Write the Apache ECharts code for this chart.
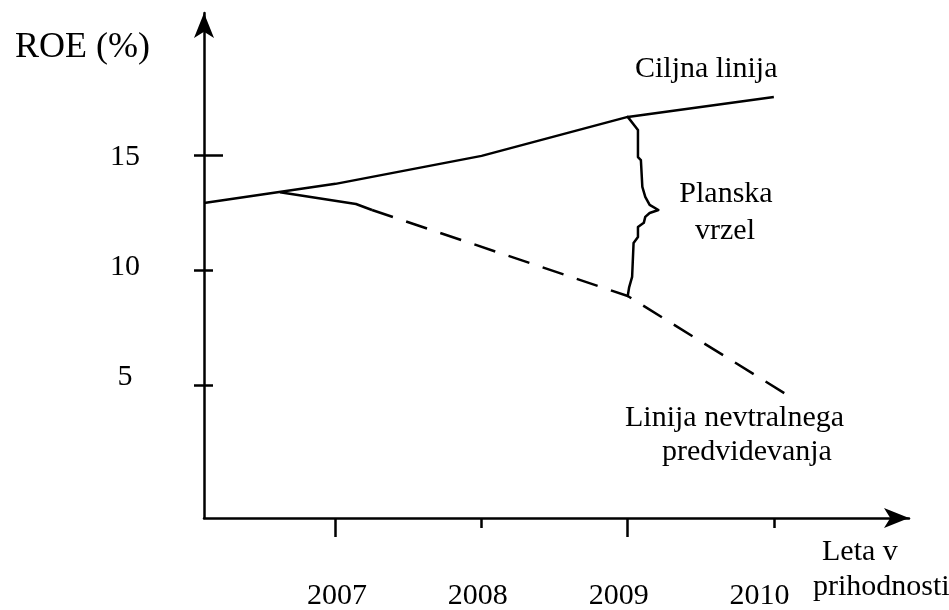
<!DOCTYPE html>
<html>
<head>
<meta charset="utf-8">
<script src="https://cdn.jsdelivr.net/npm/echarts@6/dist/echarts.min.js"></script>
<style>
  html, body { margin: 0; padding: 0; background: #fff; }
  #main { width: 949px; height: 610px; }
</style>
</head>
<body>
<div id="main"></div>
<script>
// podatki, odčitani s slike
var years = [2007, 2008, 2009, 2010];
var longTickYears = [2007, 2009];
var roeTicks = [5, 10, 15];
var innerShortTicks = [5, 10];
var innerLongTicks = [15];

// ciljna linija
var targetYears = [2006.1, 2007, 2008, 2009, 2010];
var targetRoe = [12.94, 13.77, 14.99, 16.69, 17.56];

// linija nevtralnega predvidevanja (polni del, nato črtkani del)
var neutralSolidYears = [2006.62, 2007.14, 2007.25];
var neutralSolidRoe = [13.4, 12.89, 12.63];
var neutralDashYears = [2007.25, 2009, 2010.08];
var neutralDashRoe = [12.63, 8.88, 4.61];

// zavita oklepaj - planska vrzel
var braceYears = [2009, 2009.07, 2009.07, 2009.09, 2009.10, 2009.12, 2009.15, 2009.21,
                  2009.15, 2009.12, 2009.11, 2009.07, 2009.07, 2009.04, 2009.03, 2009.01, 2009];
var braceRoe = [16.69, 16.12, 14.94, 14.81, 13.64, 13.20, 12.85, 12.63,
                12.50, 12.33, 12.07, 11.89, 11.45, 11.19, 9.71, 9.27, 8.88];

function pairs(xs, ys) {
    var out = [];
    for (var i = 0; i < xs.length; i++) out.push([xs[i], ys[i]]);
    return out;
}

var myChart = echarts.init(document.getElementById('main'));
var font = 'Liberation Serif';
var black = '#000';
var lw = 2.5;

var xMin = 2006.1, xMax = 2010.925;
var yMin = -0.8, yMax = 21.22;

function baseX(extra) {
    return Object.assign({
        type: 'value', position: 'bottom', offset: 0, min: xMin, max: xMax,
        splitLine: { show: false },
        axisLabel: { show: false },
        axisLine: { show: false, onZero: false },
        axisTick: { show: false }
    }, extra);
}
function baseY(extra) {
    return Object.assign({
        type: 'value', position: 'left', offset: 0, min: yMin, max: yMax,
        splitLine: { show: false },
        axisLabel: { show: false },
        axisLine: { show: false, onZero: false },
        axisTick: { show: false }
    }, extra);
}

var option = {
    animation: false,
    backgroundColor: '#fff',
    grid: { left: 204, right: 40, top: 13, bottom: 92, containLabel: false, outerBoundsMode: 'none' },
    xAxis: [
        baseX({
            axisLine: { show: true, onZero: false, symbol: ['none', 'arrow'], symbolSize: [15, 25],
                lineStyle: { color: black, width: lw } },
            axisTick: { show: true, customValues: years, length: 10, lineStyle: { color: black, width: lw } }
        }),
        baseX({
            axisTick: { show: true, customValues: longTickYears, length: 19, lineStyle: { color: black, width: lw } }
        }),
        baseX({
            min: 2006.0554, max: 2011.062,
            axisLabel: { show: true, customValues: years, margin: 78, verticalAlign: 'middle',
                formatter: function (v) { return String(Math.round(v)); },
                fontFamily: font, fontSize: 30, color: black }
        })
    ],
    yAxis: [
        baseY({
            axisLine: { show: true, onZero: false, symbol: ['none', 'arrow'], symbolSize: [15, 25],
                lineStyle: { color: black, width: lw } },
            axisTick: { show: true, customValues: roeTicks, length: 10, lineStyle: { color: black, width: lw } }
        }),
        baseY({
            axisTick: { show: true, inside: true, customValues: innerShortTicks, length: 9,
                lineStyle: { color: black, width: lw } }
        }),
        baseY({
            axisTick: { show: true, inside: true, customValues: innerLongTicks, length: 19,
                lineStyle: { color: black, width: lw } }
        }),
        baseY({
            min: -1.409, max: 21.545,
            axisLabel: { show: true, customValues: roeTicks, margin: 79, align: 'center',
                formatter: function (v) { return String(Math.round(v)); },
                fontFamily: font, fontSize: 30, color: black }
        })
    ],
    series: [
        {
            name: 'Ciljna linija', type: 'line', xAxisIndex: 0, yAxisIndex: 0,
            data: pairs(targetYears, targetRoe), symbol: 'none',
            lineStyle: { color: black, width: lw }
        },
        {
            name: 'Nevtralno', type: 'line', xAxisIndex: 0, yAxisIndex: 0,
            data: pairs(neutralSolidYears, neutralSolidRoe), symbol: 'none',
            lineStyle: { color: black, width: lw }
        },
        {
            name: 'Nevtralno (črtkano)', type: 'line', xAxisIndex: 0, yAxisIndex: 0,
            data: pairs(neutralDashYears, neutralDashRoe), symbol: 'none',
            lineStyle: { color: black, width: lw, type: [22, 14] }
        },
        {
            name: 'Planska vrzel', type: 'line', xAxisIndex: 0, yAxisIndex: 0,
            data: pairs(braceYears, braceRoe), symbol: 'none',
            lineStyle: { color: black, width: lw, join: 'round', cap: 'round' }
        }
    ],
    graphic: [
        { type: 'text', left: 15, top: 30, style: { text: 'ROE (%)', font: '36px "' + font + '"', fill: black } },
        { type: 'text', x: 635, y: 69, style: { text: 'Ciljna linija', font: '30px "' + font + '"', fill: black, verticalAlign: 'middle' } },
        { type: 'text', x: 726, y: 194, style: { text: 'Planska', font: '30px "' + font + '"', fill: black, align: 'center', verticalAlign: 'middle' } },
        { type: 'text', x: 725, y: 231, style: { text: 'vrzel', font: '30px "' + font + '"', fill: black, align: 'center', verticalAlign: 'middle' } },
        { type: 'text', x: 625, y: 418, style: { text: 'Linija nevtralnega', font: '30px "' + font + '"', fill: black, verticalAlign: 'middle' } },
        { type: 'text', x: 662, y: 452, style: { text: 'predvidevanja', font: '30px "' + font + '"', fill: black, verticalAlign: 'middle' } },
        { type: 'text', x: 822, y: 552, style: { text: 'Leta v', font: '30px "' + font + '"', fill: black, verticalAlign: 'middle' } },
        { type: 'text', x: 813, y: 587, style: { text: 'prihodnosti', font: '30px "' + font + '"', fill: black, verticalAlign: 'middle' } }
    ]
};

myChart.setOption(option);
</script>
</body>
</html>
